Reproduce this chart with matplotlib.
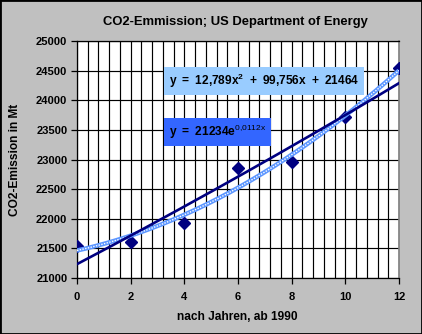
import matplotlib.pyplot as plt
import numpy as np
from matplotlib.ticker import MultipleLocator
from matplotlib.patches import Rectangle

plt.rcParams['font.family'] = ['Liberation Sans', 'DejaVu Sans']
plt.rcParams['mathtext.fontset'] = 'custom'
plt.rcParams['mathtext.rm'] = 'Liberation Sans'
plt.rcParams['mathtext.bf'] = 'Liberation Sans:bold'

# data
years = [0, 2, 4, 6, 8, 10, 12]
emission = [21540, 21605, 21925, 22860, 22960, 23720, 24550]

# trendline coefficients as printed on the chart
poly_coef = [12.789, 99.756, 21464]   # a*x^2 + b*x + c
exp_coef = [21234, 0.0112]            # A*exp(k*x)

title = "CO2-Emmission; US Department of Energy"
xlabel = "nach Jahren, ab 1990"
ylabel = "CO2-Emission in Mt"

bg = '#C0C0C0'
navy = '#000080'

fig = plt.figure(figsize=(4.22, 3.34), dpi=100, facecolor=bg)
ax = fig.add_axes([77/422, 1-278/334, 322/422, 237/334])
ax.set_facecolor('white')

xs = np.linspace(0, 12, 200)
poly_y = np.polyval(poly_coef, xs)
exp_y = exp_coef[0] * np.exp(exp_coef[1] * xs)

ax.plot(years, emission, linestyle='none', marker='D', ms=6.3, color=navy, zorder=3)
# polynomial trend: checkered light-blue pattern line
ax.plot(xs, poly_y, color='#5C96FF', lw=3.2, zorder=4, solid_capstyle='butt')
ax.plot(xs, poly_y, color='white', lw=1.0, ls=(0, (1, 1)), zorder=5)
# exponential trend
ax.plot(xs, exp_y, color=navy, lw=1.9, zorder=6)

ax.set_xlim(0, 12)
ax.set_ylim(21000, 25000)
ax.xaxis.set_major_locator(MultipleLocator(2))
ax.xaxis.set_minor_locator(MultipleLocator(0.4))
ax.yaxis.set_major_locator(MultipleLocator(500))
ax.grid(True, which='both', axis='x', color='black', lw=0.85)
ax.grid(True, which='major', axis='y', color='black', lw=0.85)
ax.set_axisbelow(True)
ax.tick_params(which='minor', length=0)
ax.tick_params(which='major', length=4, width=0.9, color='black',
               labelsize=8, pad=3)
for lab in ax.get_xticklabels() + ax.get_yticklabels():
    lab.set_fontweight('bold')
ax.tick_params(axis='x', pad=6)

for side in ['left', 'bottom', 'top']:
    ax.spines[side].set_color('black')
    ax.spines[side].set_linewidth(0.9)
ax.spines['right'].set_color('#808080')
ax.spines['right'].set_linewidth(1.2)

fig.text(235/422, 1-22/334, title, ha='center', va='center',
         fontsize=9.4, fontweight='bold')
fig.text(237/422, 1-317/334, xlabel, ha='center', va='center',
         fontsize=8.6, fontweight='bold')
fig.text(15/422, 1-160/334, ylabel, ha='center', va='center',
         rotation=90, fontsize=8.6, fontweight='bold')

ax.text(0.285, 0.83, r'$\mathbf{y\ =\ 12{,}789x^{2}\ +\ 99{,}756x\ +\ 21464}$',
        transform=ax.transAxes, fontsize=8.6, va='center', ha='left', zorder=10,
        bbox=dict(boxstyle='square,pad=0.4', fc='#99CCFF', ec='none'))
ax.text(0.285, 0.617, r'$\mathbf{y\ =\ 21234e}^{\mathrm{0{,}0112x}}$',
        transform=ax.transAxes, fontsize=8.6, va='center', ha='left', zorder=10,
        bbox=dict(boxstyle='square,pad=0.4', fc='#3366FF', ec='none'))

fig.patches.append(Rectangle((0, 0), 1, 1, transform=fig.transFigure,
                             fill=False, ec='black', lw=2))

fig.savefig('out.png', dpi=100, facecolor=bg)
